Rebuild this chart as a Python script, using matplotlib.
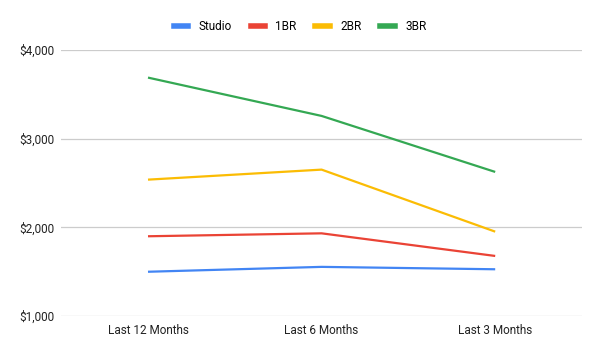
import matplotlib
matplotlib.use("Agg")
from matplotlib import pyplot as plt
from matplotlib.ticker import FuncFormatter
from matplotlib.lines import Line2D

categories = ["Last 12 Months", "Last 6 Months", "Last 3 Months"]
series_names = ["Studio", "1BR", "2BR", "3BR"]
studio = [1500, 1555, 1528]
br1 = [1900, 1933, 1678]
br2 = [2538, 2651, 1952]
br3 = [3688, 3256, 2625]
colors = ["#4285F4", "#EA4335", "#FBBC04", "#34A853"]
y_ticks = [1000, 2000, 3000, 4000]

plt.rcParams['font.family'] = ['Roboto', 'DejaVu Sans']

fig = plt.figure(figsize=(6, 3.54), dpi=100)
ax = fig.add_axes([0.102, 0.107, 0.868, 0.752])

x = list(range(len(categories)))
for vals, name, c in zip([studio, br1, br2, br3], series_names, colors):
    ax.plot(x, vals, color=c, linewidth=1.6, label=name, solid_capstyle="butt")

ax.set_xlim(-0.5, len(categories) - 0.5)
ax.set_ylim(1000, 4000)
ax.set_yticks(y_ticks)
ax.yaxis.set_major_formatter(FuncFormatter(lambda v, p: f"${int(v):,}"))
ax.set_xticks(x)
ax.set_xticklabels(categories)
ax.grid(axis="y", color="#cccccc", linewidth=0.9)
ax.set_axisbelow(True)
for s in ax.spines.values():
    s.set_visible(False)
ax.tick_params(length=0, labelsize=8.5, colors="#222222")
ax.tick_params(axis="x", pad=6)
ax.tick_params(axis="y", pad=5)

handles = [Line2D([0], [0], color=c, linewidth=4) for c in colors]
fig.legend(handles, series_names, loc="center", bbox_to_anchor=(0.5, 0.925),
           ncol=4, frameon=False, fontsize=8.5, handlelength=1.2,
           columnspacing=1.6, handletextpad=0.9)

fig.savefig("out.png", dpi=100)
